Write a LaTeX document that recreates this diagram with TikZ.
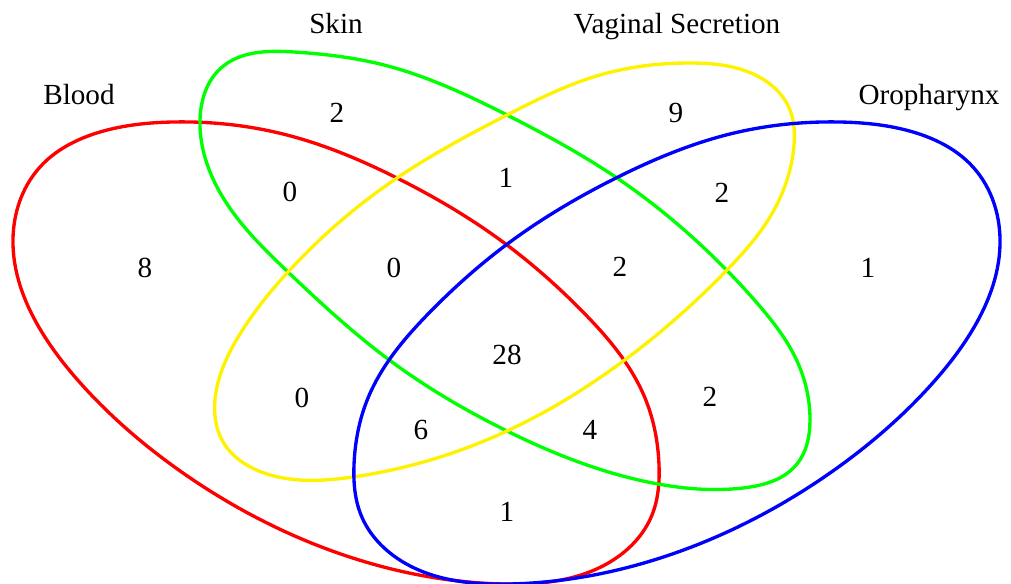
\documentclass[tikz,border=0pt]{standalone}
\usepackage{fontspec}
\setmainfont{Liberation Serif}
\usetikzlibrary{hobby}
\begin{document}
\begin{tikzpicture}[x=0.02cm,y=-0.02cm,
  setline/.style={line width=1.9pt, line join=round},
  lbl/.style={font=\fontsize{16.6}{18}\selectfont, inner sep=0pt, anchor=base},
  num/.style={font=\fontsize{16.6}{18}\selectfont, inner sep=0pt}]
\useasboundingbox (0,0) rectangle (1011,584);
% Blood (red)
\draw[setline, red] plot[closed hobby] coordinates {
(173,122) (283,134) (397,178) (507,245) (583,312) (645,398) (659,465) (652,515) (610,562) (503,584) (335,552) (183,473) (83,386) (43,334) (13,245) (40,167) (100,132)};
% Skin (green)
\draw[setline, green] plot[closed hobby] coordinates {
(294,52) (384,65) (507,115) (617,178) (703,247) (757,303) (797,361) (810,420) (797,464) (743,488) (658,484) (507,431) (392,362) (288,272) (217,187) (200,120) (221,68)};
% Vaginal Secretion (yellow)
\draw[setline, yellow] plot[closed hobby] coordinates {
(690,63) (751,73) (790,110) (794,145) (770,217) (727,270) (622,362) (507,431) (353,477) (267,474) (222,440) (215,400) (240,334) (288,272) (397,178) (507,115) (600,75)};
% Oropharynx (blue), mirror image of Blood
\draw[setline, blue] plot[closed hobby] coordinates {
(840,122) (730,134) (616,178) (506,245) (430,312) (368,398) (354,465) (361,515) (403,562) (510,584) (678,552) (830,473) (930,386) (970,334) (1000,245) (973,167) (913,132)};
% set labels
\node[lbl] (lblood) at (79,105) {Blood};
\node[lbl] (lskin) at (336,34) {Skin};
\node[lbl] (lvag) at (677,34) {Vaginal Secretion};
\node[lbl] (loro) at (929,105) {Oropharynx};
% counts
\node[num] (n1) at (145,268) {8};
\node[num] (n2) at (337,113) {2};
\node[num] (n3) at (290,192) {0};
\node[num] (n4) at (394,268) {0};
\node[num] (n5) at (506,178) {1};
\node[num] (n6) at (676,113) {9};
\node[num] (n7) at (722,193) {2};
\node[num] (n8) at (620,267) {2};
\node[num] (n9) at (868,268) {1};
\node[num] (n10) at (507,355) {28};
\node[num] (n11) at (302,398) {0};
\node[num] (n12) at (421,430) {6};
\node[num] (n13) at (590,430) {4};
\node[num] (n14) at (710,397) {2};
\node[num] (n15) at (507,512) {1};
\end{tikzpicture}
\end{document}
